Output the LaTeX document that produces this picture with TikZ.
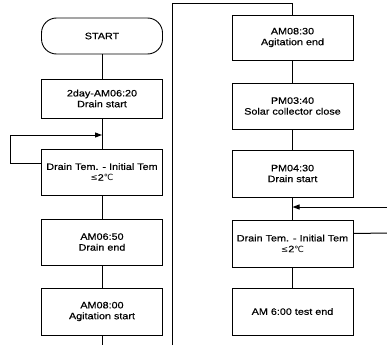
\documentclass[tikz,border=0pt]{standalone}
\usepackage{fontspec}
\setmainfont[FakeStretch=1.16,FakeBold=0.4]{Liberation Sans}
\newfontfamily\symfont{DejaVu Sans}
\usetikzlibrary{arrows.meta,calc}
\begin{document}
\begin{tikzpicture}[x=1pt,y=-1pt,
  box/.style={draw,line width=0.9pt,minimum width=121pt,inner sep=0pt,align=center,font=\fontsize{9.3}{10.8}\selectfont},
  conn/.style={line width=1pt},
  arr/.style={conn,-{Triangle[length=7pt,width=5pt]}}]
\useasboundingbox (0,0) rectangle (387,345);
% left column
\node[box,rounded corners=15pt,minimum height=36pt] (start) at (102,36) {START};
\node[box,minimum height=39pt] (b1) at (102,98.5) {2day-AM06:20\\Drain start};
\node[box,minimum height=46pt] (d1) at (102,172) {Drain Tem. - Initial Tem\\{\symfont\fontsize{8.5}{10.8}\selectfont ≤}2{\symfont\fontsize{8.5}{10.8}\selectfont ℃}};
\node[box,minimum height=46pt] (b2) at (102,242) {AM06:50\\Drain end};
\node[box,minimum height=47pt] (b3) at (102,311.5) {AM08:00\\Agitation start};
% right column
\node[box,minimum height=45pt] (r1) at (292.5,37.5) {AM08:30\\Agitation end};
\node[box,minimum height=46pt] (r2) at (292.5,106) {PM03:40\\Solar collector close};
\node[box,minimum height=47pt] (r3) at (292.5,173.5) {PM04:30\\Drain start};
\node[box,minimum height=47pt] (r4) at (292.5,243.5) {Drain Tem. - Initial Tem\\{\symfont\fontsize{8.5}{10.8}\selectfont ≤}2{\symfont\fontsize{8.5}{10.8}\selectfont ℃}};
\node[box,minimum height=47pt] (r5) at (292.5,311.5) {AM 6:00 test end};
% free ends
\coordinate (lb) at (102,345);
\coordinate (rb) at (172,345);
\coordinate (rt) at (172,4);
\coordinate (ll) at (10,135);
\coordinate (er1) at (387,207);
\coordinate (er2) at (387,233);
% connectors
\draw[conn] (start) -- (b1);
\draw[conn] (b1) -- (d1);
\draw[conn] (d1) -- (b2);
\draw[conn] (b2) -- (b3);
\draw[conn] (b3) -- (lb);
\draw[conn] (rb) -- (rt) -| (r1.north);
\draw[conn] (r1) -- (r2);
\draw[conn] (r2) -- (r3);
\draw[conn] (r3) -- (r4);
\draw[conn] (r4) -- (r5);
\draw[arr] ($(d1.west)+(0,-9)$) -| (ll) -- (b1.south |- ll);
\draw[arr] (er1) -- (r3.south |- er1);
\draw[conn] ($(r4.east)+(0,-10)$) -- (er2);
\end{tikzpicture}
\end{document}
